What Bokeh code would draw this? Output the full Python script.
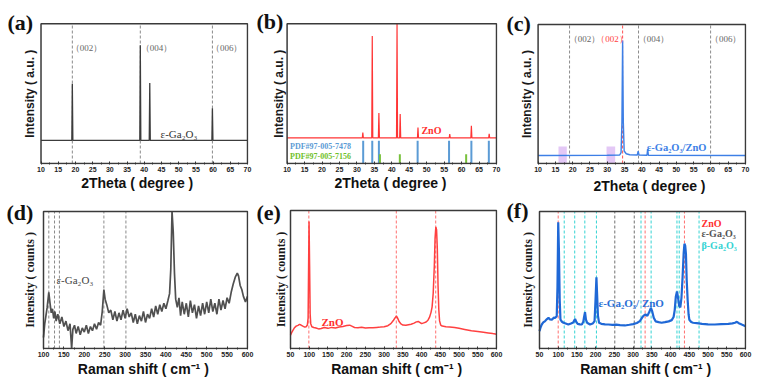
import math
from bokeh.plotting import figure
from bokeh.layouts import gridplot
from bokeh.models import Label, Title, FixedTicker
from bokeh.embed import file_html
from bokeh.resources import INLINE

# ---------------- data ----------------
xrd_ticks = [10, 15, 20, 25, 30, 35, 40, 45, 50, 55, 60, 65, 70]
xrd_minor = [12.5, 17.5, 22.5, 27.5, 32.5, 37.5, 42.5, 47.5, 52.5, 57.5, 62.5, 67.5]
raman_ticks_d = [100, 150, 200, 250, 300, 350, 400, 450, 500, 550, 600]
raman_minor_d = [125, 175, 225, 275, 325, 375, 425, 475, 525, 575]
raman_ticks_ef = [50, 100, 150, 200, 250, 300, 350, 400, 450, 500, 550, 600]
raman_minor_ef = [75, 125, 175, 225, 275, 325, 375, 425, 475, 525, 575]

# (a) epsilon-Ga2O3 XRD
a_base = 16.5
a_peak_pos = [19.1, 38.85, 41.6, 59.8]
a_peak_int = [57.0, 84.7, 57.6, 39.6]
a_hkl_pos = [19.1, 38.85, 59.8]
a_hkl_lab = ["（002）", "（004）", "（006）"]

# (b) ZnO XRD + reference cards
b_base = 18.3
b_peak_pos = [31.7, 34.4, 36.3, 41.5, 42.4, 47.5, 56.6, 62.8, 67.9]
b_peak_int = [22.2, 91.2, 36.1, 100.0, 35.4, 25.7, 21.0, 27.0, 21.3]
b_ref1_pos = [31.8, 34.4, 36.3, 47.4, 56.4, 62.8, 67.8]   # PDF#97-005-7478
b_ref1_top = 16.3
b_ref2_pos = [36.6, 42.3, 61.3]                            # PDF#97-005-7156
b_ref2_top = 6.7

# (c) epsilon-Ga2O3/ZnO XRD
c_x = [10, 30.0, 33.6, 34.0, 34.25, 34.45, 34.65, 34.9, 35.5, 36.5, 38.7, 38.95, 39.2, 41.5, 41.7, 41.9, 70]
c_y = [5.8, 5.9, 6.1, 7.8, 30.0, 88.5, 30.0, 9.0, 7.0, 6.3, 6.1, 8.9, 6.0, 5.9, 10.6, 5.9, 5.8]
c_shade_left = [15.9, 29.8]
c_shade_right = [18.3, 32.3]
c_shade_top = 12.2
c_grey_pos = [19.1, 39.05, 59.9]
c_red_pos = [34.45]

# (d) epsilon-Ga2O3 Raman
d_shift = [100, 103, 106, 109, 113, 116, 119, 122, 125, 128, 131, 135, 140, 145, 150, 155, 160, 165, 169, 172,
           176, 180, 185, 190, 195, 200, 205, 210, 215, 220, 225, 230, 235, 240, 244, 248, 251, 255, 260, 265,
           270, 275, 280, 285, 290, 295, 300, 305, 310, 315, 320, 325, 330, 335, 340, 345, 350, 355, 360, 365,
           370, 375, 380, 385, 390, 395, 400, 405, 409, 412, 415, 418, 421, 424, 428, 432, 436, 440, 445, 450,
           455, 460, 465, 470, 475, 480, 485, 490, 495, 500, 505, 510, 515, 520, 525, 530, 535, 540, 545, 550,
           555, 560, 565, 570, 575, 578, 582, 586, 590, 595, 600]
d_int = [8, 18, 24, 30, 41, 33, 26, 29, 22, 27, 20, 25, 18, 23, 16, 20, 13, 18, 0, 14,
         17, 11, 16, 10, 15, 12, 17, 11, 16, 13, 18, 14, 19, 17, 27, 43, 36, 32, 26, 28,
         21, 27, 20, 26, 21, 28, 22, 29, 23, 26, 19, 25, 18, 24, 20, 27, 19, 25, 22, 29,
         23, 31, 25, 32, 27, 33, 29, 35, 40, 58, 100, 85, 55, 36, 30, 37, 24, 34, 25, 33,
         23, 35, 26, 32, 22, 31, 24, 33, 25, 34, 26, 36, 27, 33, 25, 36, 28, 35, 29, 37,
         33, 41, 47, 52, 55, 53, 46, 43, 38, 34, 38]
d_mode_pos = [113, 127, 139, 248, 302]

# (e) ZnO Raman
e_shift = [50, 53, 56, 60, 65, 70, 74, 78, 83, 88, 92, 95, 97, 98, 99.5, 101, 102.5, 104, 107, 112,
           118, 125, 132, 140, 150, 160, 170, 180, 190, 200, 208, 215, 221, 230, 240, 250, 260, 270, 280, 290,
           300, 310, 318, 325, 330, 333, 336, 340, 345, 350, 358, 365, 372, 380, 386, 391, 396, 400, 406, 412,
           417, 421, 425, 428, 431, 434, 436, 438, 440, 442, 444, 446, 448, 451, 455, 465, 475, 488, 500, 515,
           533, 550, 565, 578, 590, 600]
e_int = [9.6, 11.5, 13.0, 14.8, 16.2, 16.8, 17.5, 17.0, 16.2, 15.5, 15.8, 17.0, 22.0, 50.0, 92.0, 60.0, 25.0, 18.0, 15.8, 15.2,
         14.8, 14.2, 14.5, 15.2, 14.6, 15.3, 14.9, 15.6, 16.0, 16.6, 16.9, 16.0, 15.2, 15.0, 15.4, 14.9, 15.1, 15.0, 15.3, 15.5,
         15.8, 16.5, 18.0, 20.5, 22.5, 23.5, 22.0, 19.5, 17.8, 17.0, 16.8, 17.2, 17.6, 18.4, 19.3, 19.6, 18.8, 18.0, 18.6, 19.2,
         20.5, 22.5, 26.0, 30.0, 40.0, 60.0, 80.0, 88.0, 86.0, 72.0, 45.0, 28.0, 20.0, 17.0, 16.3, 15.8, 15.6, 15.2, 14.6, 13.8,
         12.8, 12.3, 11.8, 11.3, 10.8, 10.4]
e_mode_pos = [99, 332.5, 437.7]

# (f) epsilon-Ga2O3/ZnO Raman
f_shift = [50, 53, 56, 60, 65, 70, 74, 78, 83, 88, 92, 96, 98, 100, 102, 104, 106, 110, 114, 120,
           127, 134, 140, 143, 145, 148, 152, 158, 163, 167, 169, 171.5, 174, 177, 185, 192, 197, 199.5, 202, 204,
           206, 209, 215, 225, 234, 245, 255, 265, 278, 290, 300, 310, 318, 324, 328, 333, 338, 342, 347.5, 351,
           355, 360, 368, 376, 385, 395, 403, 408, 411, 414, 417, 420, 423, 426, 429, 432, 435, 437, 439, 441,
           443, 445.5, 448, 450, 455, 460, 470, 484, 500, 518, 535, 554, 565, 572, 577, 582, 590, 600]
f_int = [12.7, 15.5, 17.5, 19.0, 20.0, 21.5, 22.4, 21.2, 21.0, 22.5, 22.4, 23.6, 45.0, 92.0, 70.0, 35.0, 21.0, 19.5, 18.8, 18.2,
         17.5, 18.2, 19.0, 20.5, 21.5, 19.5, 18.0, 17.6, 17.5, 19.5, 23.0, 26.5, 21.0, 18.8, 17.5, 18.2, 20.0, 35.0, 52.0, 38.0,
         24.0, 18.8, 18.0, 17.6, 17.5, 17.2, 17.4, 17.0, 16.8, 17.3, 17.8, 18.6, 20.0, 22.5, 24.0, 24.8, 23.8, 26.0, 29.6, 27.0,
         22.5, 19.8, 19.2, 18.8, 19.2, 19.8, 20.7, 23.0, 28.0, 38.0, 41.6, 37.0, 31.0, 30.0, 37.0, 52.0, 70.0, 76.4, 75.0, 69.0,
         50.0, 35.6, 25.0, 21.0, 19.3, 18.8, 18.5, 18.0, 17.6, 17.5, 17.8, 18.0, 18.3, 18.8, 19.5, 18.5, 17.5, 16.3]
f_zno_pos = [99.9, 332, 437]
f_beta_pos = [116, 144, 171, 202, 321, 348, 417, 423, 476]
f_eps_pos = [251, 303]

# ---------------- geometry (screen pixels) ----------------
# x0,y0,w,h: figure box; L,R,T,B: plot box (data box) edges
G = {
    "a": dict(x0=0, y0=0, w=254, h=196, L=41, R=250, T=24, B=168, xr=(10, 70)),
    "b": dict(x0=254, y0=0, w=251, h=196, L=287, R=499, T=24, B=168, xr=(10, 70)),
    "c": dict(x0=505, y0=0, w=258, h=196, L=538, R=748, T=24, B=163, xr=(10, 70)),
    "d": dict(x0=0, y0=196, w=254, h=185, L=43, R=247, T=211, B=349, xr=(100, 600)),
    "e": dict(x0=254, y0=196, w=251, h=185, L=290, R=496, T=210, B=348, xr=(50, 600)),
    "f": dict(x0=505, y0=196, w=258, h=185, L=539, R=745, T=211, B=349, xr=(50, 600)),
}


def kxy(g):
    kx = (g["xr"][1] - g["xr"][0]) / (g["R"] - g["L"])
    ky = 100.0 / (g["B"] - g["T"])
    return kx, ky


def px2data(g, px, py):
    kx, ky = kxy(g)
    return g["xr"][0] + (px - g["L"]) * kx, (g["B"] - py) * ky


def add_text(p, g, px, py, text, size, color, bold=False, font="Liberation Serif",
             align="left", baseline="middle", angle=0.0):
    x, y = px2data(g, px, py)
    p.add_layout(Label(x=x, y=y, text=text, text_font=font, text_font_size=f"{size}px",
                       text_color=color, text_font_style="bold" if bold else "normal",
                       text_align=align, text_baseline=baseline, angle=angle))


def make_fig(g, ylabel, yfont, ylab_x, ticks, minor, letter, letter_xy, xtitle, xtitle_left,
             xt_standoff, xt_valign="middle"):
    w, h = g["w"], g["h"]
    FL, FR, FT, FB = g["x0"], g["R"] + 1, g["y0"], g["B"] + 1
    kx, ky = kxy(g)
    xr = (g["xr"][0] - (g["L"] - FL) * kx, g["xr"][1] + (FR - g["R"]) * kx)
    yr = (-(FB - g["B"]) * ky, 100 + (g["T"] - FT) * ky)
    p = figure(width=w, height=h, x_range=xr, y_range=yr,
               output_backend="svg", toolbar_location=None, tools="",
               min_border_left=0, min_border_top=0,
               min_border_right=g["x0"] + w - FR, min_border_bottom=g["y0"] + h - FB)
    p.grid.visible = False
    p.outline_line_color = None
    p.background_fill_color = "white"
    p.border_fill_color = "white"
    p.yaxis.visible = False
    xa = p.xaxis[0]
    xa.ticker = FixedTicker(ticks=ticks, minor_ticks=minor)
    xa.major_tick_in = 3
    xa.major_tick_out = 0
    xa.minor_tick_in = 2
    xa.minor_tick_out = 0
    xa.major_tick_line_color = "#333333"
    xa.minor_tick_line_color = "#333333"
    xa.axis_line_color = None
    xa.major_label_text_font = "Liberation Sans"
    xa.major_label_text_font_size = "7px"
    xa.major_label_text_font_style = "bold"
    xa.major_label_text_color = "#222222"
    xa.major_label_standoff = 2
    # x axis title (below the tick labels)
    t = Title(text=xtitle, align="left", offset=xtitle_left - FL,
              standoff=xt_standoff, vertical_align=xt_valign,
              text_font="Liberation Sans", text_font_size="14px", text_font_style="bold",
              text_color="#111111")
    p.add_layout(t, "below")
    # y title and panel letter (inside the canvas frame, left of the plot box)
    add_text(p, g, ylab_x, (g["T"] + g["B"]) / 2.0, ylabel, 12, "#1a1a1a", bold=True,
             font=yfont, align="center", baseline="middle", angle=math.pi / 2)
    add_text(p, g, letter_xy[0], letter_xy[1], letter, 22, "#111111", bold=True,
             baseline="alphabetic")
    return p


def box(p, g):
    x0, x1 = g["xr"]
    p.quad(left=[x0], right=[x1], bottom=[0], top=[100], fill_color=None,
           line_color="#3a3a3a", line_width=1.5)


def peak_line(base, pos, inten, hw, xr):
    xs, ys = [xr[0]], [base]
    for x, y in zip(pos, inten):
        xs += [x - hw, x, x + hw]
        ys += [base, y, base]
    xs.append(xr[1])
    ys.append(base)
    return xs, ys


def vdash(p, locs, color, dash="3 2", width=1.0):
    n = len(locs)
    p.segment(x0=locs, y0=[0] * n, x1=locs, y1=[100] * n, line_color=color,
              line_dash=dash, line_width=width)


XT = "2Theta ( degree )"
RT = "Raman shift ( cm⁻¹ )"

# ---------------- (a) ----------------
g = G["a"]
pa = make_fig(g, "Intensity ( a.u. )", "Liberation Sans", 29.5, xrd_ticks, xrd_minor,
              "(a)", (7, 22.5), XT, 80.7, -2)
vdash(pa, a_hkl_pos, "#8a8a8a")
ax, ay = peak_line(a_base, a_peak_pos, a_peak_int, 0.15, g["xr"])
pa.line(ax, ay, line_color="#3c3c3c", line_width=1.3)
for lab, px in zip(a_hkl_lab, [71, 142, 213]):
    add_text(pa, g, px, 49, lab, 9, "#666666")
add_text(pa, g, 162, 138, "ε-Ga₂O₃", 11, "#333333")
box(pa, g)

# ---------------- (b) ----------------
g = G["b"]
pb = make_fig(g, "Intensity ( a.u. )", "Liberation Sans", 279, xrd_ticks, xrd_minor,
              "(b)", (256, 22), XT, 334, -2)
bx, by = peak_line(b_base, b_peak_pos, b_peak_int, 0.15, g["xr"])
pb.line(bx, by, line_color="#ff3535", line_width=1.2)
pb.segment(x0=b_ref1_pos, y0=[0] * len(b_ref1_pos), x1=b_ref1_pos,
           y1=[b_ref1_top] * len(b_ref1_pos), line_color="#5b9bd5", line_width=2)
pb.segment(x0=b_ref2_pos, y0=[0] * len(b_ref2_pos), x1=b_ref2_pos,
           y1=[b_ref2_top] * len(b_ref2_pos), line_color="#78c13c", line_width=2)
add_text(pb, g, 423, 134, "ZnO", 10, "#ff3030", bold=True)
add_text(pb, g, 290, 150.5, "PDF#97-005-7478", 8, "#5b9bd5", bold=True)
add_text(pb, g, 290, 160.5, "PDF#97-005-7156", 8, "#6fbf2a", bold=True)
box(pb, g)

# ---------------- (c) ----------------
g = G["c"]
pc = make_fig(g, "Intensity ( a.u. )", "Liberation Sans", 527, xrd_ticks, xrd_minor,
              "(c)", (506, 22.5), XT, 593, 4)
pc.quad(left=c_shade_left, right=c_shade_right, bottom=[0, 0],
        top=[c_shade_top] * len(c_shade_left), fill_color="#e3c8f6", line_color=None)
vdash(pc, c_grey_pos, "#8c8c8c")
vdash(pc, c_red_pos, "#ff5050")
pc.line(c_x, c_y, line_color="#3d7fe6", line_width=1.4)
add_text(pc, g, 569, 38, "（002）", 9, "#666666")
add_text(pc, g, 597, 38, "（002）", 9, "#ff4040")
add_text(pc, g, 639, 38, "（004）", 9, "#666666")
add_text(pc, g, 712, 38, "（006）", 9, "#666666")
add_text(pc, g, 648, 147, "ε-Ga₂O₃/ZnO", 10.5, "#3d7fe6", bold=True)
box(pc, g)

# ---------------- (d) ----------------
g = G["d"]
pd_ = make_fig(g, "Intensity ( counts )", "Liberation Serif", 29, raman_ticks_d, raman_minor_d,
               "(d)", (6, 212.5), RT, 77.3, 3, "top")
vdash(pd_, d_mode_pos, "#8a8a8a")
pd_.line(d_shift, d_int, line_color="#505050", line_width=1.7)
add_text(pd_, g, 56, 280, "ε-Ga₂O₃", 11, "#444444")
box(pd_, g)

# ---------------- (e) ----------------
g = G["e"]
pe = make_fig(g, "Intensity ( counts )", "Liberation Serif", 280, raman_ticks_ef, raman_minor_ef,
              "(e)", (256, 211.5), RT, 330.7, 3, "top")
vdash(pe, e_mode_pos, "#ff7070")
pe.line(e_shift, e_int, line_color="#ff4040", line_width=1.5)
add_text(pe, g, 321, 321.5, "ZnO", 11, "#ff3030", bold=True)
box(pe, g)

# ---------------- (f) ----------------
g = G["f"]
pf = make_fig(g, "Intensity ( counts )", "Liberation Serif", 527, raman_ticks_ef, raman_minor_ef,
              "(f)", (506, 210), RT, 579.7, 3, "top")
vdash(pf, f_beta_pos, "#35d3d3")
vdash(pf, f_eps_pos, "#707070")
vdash(pf, f_zno_pos, "#ff6f6f")
pf.line(f_shift, f_int, line_color="#1f68d6", line_width=2.2)
add_text(pf, g, 598, 303, "ε-Ga₂O₃/ ZnO", 11, "#2a6fd6", bold=True)
add_text(pf, g, 701, 223, "ZnO", 10, "#ff3030", bold=True)
add_text(pf, g, 701, 233.5, "ε-Ga₂O₃", 10, "#555555", bold=True)
add_text(pf, g, 701, 245, "β-Ga₂O₃", 10, "#35d3d3", bold=True)
box(pf, g)

grid = gridplot([[pa, pb, pc], [pd_, pe, pf]], toolbar_location=None)
open("out.html", "w").write(file_html(grid, INLINE))
